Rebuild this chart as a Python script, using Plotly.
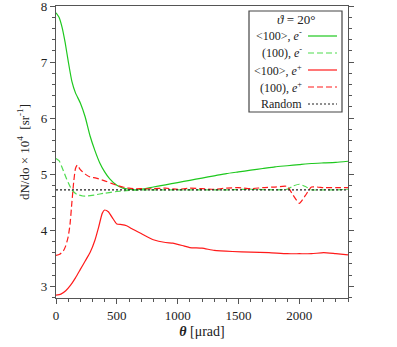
import plotly.graph_objects as go

# theta [urad] and dN/do x 1e4 values
theta_ax_e = [0, 25, 50, 75, 100, 130, 160, 200, 240, 280, 320, 360, 400, 440, 500, 550, 600, 650, 700,
              800, 900, 1000, 1100, 1200, 1300, 1400, 1500, 1600, 1700, 1800, 1900, 2000, 2100, 2200, 2300, 2400]
ax_e = [7.88, 7.8, 7.62, 7.35, 7.02, 6.66, 6.45, 6.27, 6.02, 5.68, 5.42, 5.2, 5.04, 4.92, 4.8, 4.75, 4.73, 4.72, 4.73,
        4.77, 4.81, 4.85, 4.89, 4.93, 4.97, 5.01, 5.04, 5.07, 5.1, 5.13, 5.15, 5.17, 5.19, 5.2, 5.21, 5.23]

theta_pl_e = [0, 25, 50, 75, 100, 130, 170, 220, 260, 320, 400, 500, 600, 700, 800, 900, 1000, 1200, 1400,
              1600, 1800, 1900, 1950, 2000, 2050, 2100, 2200, 2300, 2400]
pl_e = [5.28, 5.24, 5.12, 4.98, 4.85, 4.72, 4.64, 4.61, 4.61, 4.63, 4.66, 4.69, 4.71, 4.72, 4.72, 4.72, 4.72, 4.72, 4.72,
        4.73, 4.72, 4.73, 4.79, 4.82, 4.78, 4.72, 4.72, 4.72, 4.73]

theta_ax_p = [0, 40, 80, 120, 160, 200, 240, 280, 320, 350, 380, 400, 430, 470, 500, 540, 580, 620, 700,
              800, 900, 960, 1050, 1100, 1200, 1300, 1450, 1600, 1750, 1900, 2000, 2100, 2200, 2300, 2400]
ax_p = [2.84, 2.86, 2.92, 3.02, 3.15, 3.3, 3.45, 3.6, 3.82, 4.05, 4.3, 4.36, 4.33, 4.2, 4.11, 4.1, 4.08, 4.03, 3.94,
        3.83, 3.78, 3.77, 3.72, 3.69, 3.68, 3.64, 3.62, 3.61, 3.6, 3.58, 3.58, 3.58, 3.6, 3.58, 3.56]

theta_pl_p = [0, 30, 60, 80, 100, 115, 130, 145, 160, 175, 200, 240, 280, 330, 400, 450, 500, 550, 600, 650,
              700, 800, 900, 1000, 1100, 1200, 1300, 1400, 1500, 1600, 1700, 1800, 1900, 1950, 2000, 2050,
              2100, 2200, 2300, 2400]
pl_p = [3.55, 3.57, 3.63, 3.72, 3.88, 4.1, 4.48, 4.85, 5.1, 5.16, 5.08, 5.0, 4.95, 4.93, 4.88, 4.84, 4.8, 4.77, 4.75, 4.74,
        4.74, 4.74, 4.75, 4.73, 4.75, 4.74, 4.73, 4.75, 4.76, 4.74, 4.76, 4.77, 4.78, 4.62, 4.48, 4.62,
        4.77, 4.76, 4.76, 4.76]

theta_rand = [0, 2400]
rand = [4.72, 4.72]

legend_labels = ["&lt;100&gt;, <i>e</i><sup>-</sup>", "(100), <i>e</i><sup>-</sup>",
                 "&lt;100&gt;, <i>e</i><sup>+</sup>", "(100), <i>e</i><sup>+</sup>", "Random"]

GREEN = "#1ec81e"
LGREEN = "#4fdc4f"
RED = "#ff1a1a"
styles = [
    dict(color=GREEN, width=1.2, dash="solid"),
    dict(color=LGREEN, width=1.2, dash="6px,3px"),
    dict(color=RED, width=1.2, dash="solid"),
    dict(color=RED, width=1.2, dash="6px,3px"),
    dict(color="#222222", width=1.2, dash="2px,2px"),
]

SERIF = "Liberation Serif"
W, H = 397, 347
L, R, T, B = 56, 49, 6, 49
pw, ph = W - L - R, H - T - B


def px(x, y):
    # pixel -> paper coords
    return (x - L) / pw, (H - B - y) / ph


fig = go.Figure()
series = [(theta_ax_e, ax_e), (theta_pl_e, pl_e), (theta_ax_p, ax_p), (theta_pl_p, pl_p), (theta_rand, rand)]
for (xs, ys), st, lab in zip(series, styles, legend_labels):
    fig.add_trace(go.Scatter(x=xs, y=ys, mode="lines", line=dict(shape="spline", smoothing=0.5, **st),
                             name=lab, showlegend=False))

# hand-made legend box: text right-aligned, line sample on the right
shapes = []
annos = []
x0, y0 = px(249, 11)
x1, y1 = px(342, 112)
shapes.append(dict(type="rect", xref="paper", yref="paper", x0=x0, y0=y1, x1=x1, y1=y0,
                   line=dict(color="#444444", width=1.2), fillcolor="white", layer="above"))
tx, ty = px(296, 20)
annos.append(dict(xref="paper", yref="paper", x=tx, y=ty, text="<i>ϑ</i> = 20°", showarrow=False,
                  xanchor="center", yanchor="middle", font=dict(family=SERIF, size=13)))
for i, (lab, st) in enumerate(zip(legend_labels, styles)):
    yy = 36 + i * 17
    ax, ay = px(304, yy)
    annos.append(dict(xref="paper", yref="paper", x=ax, y=ay, text=lab, showarrow=False,
                      xanchor="right", yanchor="middle", font=dict(family=SERIF, size=12)))
    lx0, ly = px(308, yy)
    lx1, _ = px(337, yy)
    shapes.append(dict(type="line", xref="paper", yref="paper", x0=lx0, x1=lx1, y0=ly, y1=ly,
                       line=st, layer="above"))

axis_common = dict(showline=True, linecolor="#555555", linewidth=1.2, showgrid=False, automargin=False,
                   zeroline=False, ticks="outside", ticklen=5, tickcolor="#555555", ticklabeloverflow="allow",
                   tickfont=dict(family=SERIF, size=13, color="#222222"))

fig.update_layout(
    width=W, height=H,
    margin=dict(l=L, r=R, t=T, b=B),
    paper_bgcolor="white", plot_bgcolor="white",
    font=dict(family=SERIF, color="#222222"),
    shapes=shapes, annotations=annos,
    xaxis=dict(range=[0, 2400], tickvals=[0, 500, 1000, 1500, 2000], mirror=True,
               minor=dict(dtick=100, ticks="outside", ticklen=3, tickcolor="#555555"),
               title=dict(text="<i><b>θ</b></i> [μrad]", font=dict(family=SERIF, size=14), standoff=4),
               **axis_common),
    yaxis=dict(range=[2.79, 8.0], tickvals=[3, 4, 5, 6, 7, 8], mirror="allticks",
               minor=dict(dtick=0.2, tick0=3, ticks="outside", ticklen=3, tickcolor="#555555"),
               title=dict(text="dN/do × 10<sup>4</sup>  [sr<sup>-1</sup>]", font=dict(family=SERIF, size=13),
                          standoff=8),
               **axis_common),
)

fig.write_html("out.html", config={"displayModeBar": False},
               post_script="document.body.style.margin='0';")
